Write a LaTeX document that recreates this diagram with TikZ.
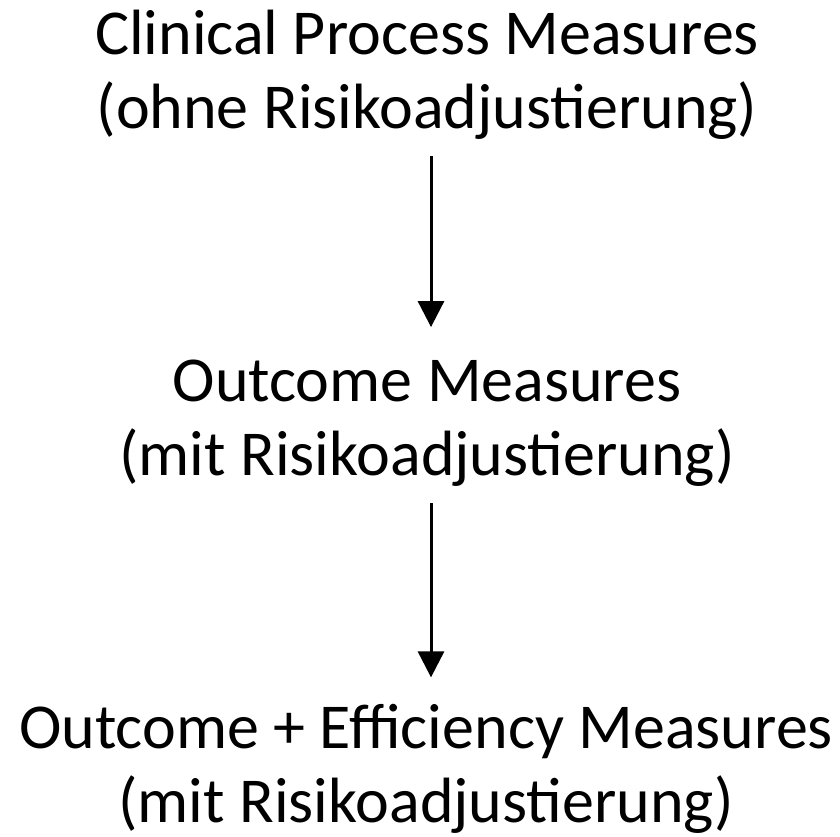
\documentclass[tikz,border=0pt]{standalone}
\usepackage{fontspec}
\setmainfont{Carlito}
\usetikzlibrary{arrows.meta}

\begin{document}
\begin{tikzpicture}[x=.5pt, y=-.5pt,
  measure/.style={align=center, inner sep=0, font=\fontsize{32}{37}\selectfont, anchor=base},
  flow/.style={line width=1.5pt, -{Triangle[width=13pt,length=13pt]}}]
\useasboundingbox (0,0) rectangle (840,836);
% three kinds of measures, top to bottom
\node[measure] (process) at (427,128) {Clinical Process Measures\\(ohne Risikoadjustierung)};
\node[measure] (outcome) at (427,475) {Outcome Measures\\(mit Risikoadjustierung)};
\node[measure] (efficiency) at (426,822) {Outcome + Efficiency Measures\\(mit Risikoadjustierung)};
\draw[flow, shorten <=8.5pt, shorten >=16pt] ([xshift=2pt]process.south) -- ([xshift=2pt]outcome.north);
\draw[flow, shorten <=8.5pt, shorten >=13pt] ([xshift=2pt]outcome.south) -- ([xshift=2.5pt]efficiency.north);
\end{tikzpicture}
\end{document}
